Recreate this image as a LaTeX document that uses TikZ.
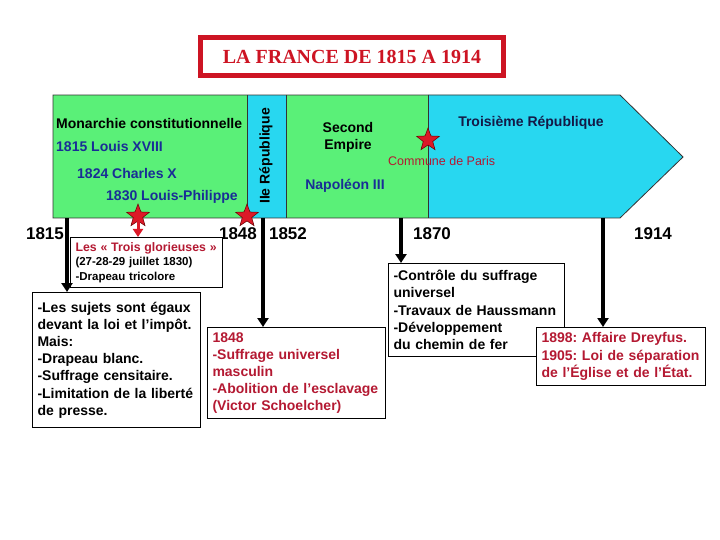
\documentclass[tikz,border=0pt]{standalone}
\usepackage{fontspec}
\setmainfont{Liberation Sans}
\newfontfamily\titlefont{Liberation Serif}
\usetikzlibrary{shapes.geometric,arrows.meta}
\definecolor{bandgreen}{RGB}{90,240,120}
\definecolor{bandblue}{RGB}{40,215,240}
\definecolor{titlered}{RGB}{205,20,35}
\definecolor{txtred}{RGB}{180,25,50}
\definecolor{txtblue}{RGB}{25,45,150}
\definecolor{txtnavy}{RGB}{20,25,70}
\definecolor{starred}{RGB}{220,25,40}
\newcommand{\bxfont}{\fontsize{14}{17.2}\selectfont\bfseries}
\frenchspacing
\begin{document}
\begin{tikzpicture}[x=1pt,y=-1pt,
  infobox/.style={draw, line width=1pt, fill=white, anchor=north west, align=left,
    inner xsep=5pt, inner ysep=0pt, font=\bxfont},
  bandtxt/.style={font=\fontsize{14}{17}\selectfont\bfseries, inner sep=0pt},
  yeartxt/.style={font=\fontsize{17}{20}\selectfont\bfseries, inner sep=0pt},
  redstar/.style={star, star points=5, star point ratio=2.4, minimum size=24pt,
    inner sep=0pt, fill=starred, draw=black!60!red, line width=0.5pt},
  blackarrow/.style={line width=4pt, -{Triangle[width=11pt,length=9pt]}},
  redarrow/.style={line width=3pt, starred, -{Triangle[width=10pt,length=8pt]}}]
\useasboundingbox (0,0) rectangle (720,540);
\fill[white] (0,0) rectangle (720,540);
% title
\node[draw=titlered, line width=5pt, minimum width=303pt, minimum height=38pt,
  text=titlered, font=\titlefont\fontsize{20}{24}\selectfont\bfseries] (title) at (352,56.5)
  {LA FRANCE DE 1815 A 1914};
% band
\fill[bandgreen] (53,95) rectangle (247,218);
\fill[bandblue] (247,95) rectangle (286,218);
\fill[bandgreen] (286,95) rectangle (428,218);
\fill[bandblue] (428,95) -- (620,95) -- (683,157) -- (620,218) -- (428,218) -- cycle;
\draw[line width=0.8pt, black!80] (53,95) -- (620,95) -- (683,157) -- (620,218) -- (53,218) -- cycle;
\draw[line width=0.8pt, black!80] (247,95) -- (247,218) (286,95) -- (286,218) (428,95) -- (428,218);
% band texts
\node[bandtxt, anchor=west] (mon) at (56,123) {Monarchie constitutionnelle};
\node[bandtxt, anchor=west, text=txtblue] (l18) at (56,146) {1815 Louis XVIII};
\node[bandtxt, anchor=west, text=txtblue] (ch10) at (77,173) {1824 Charles X};
\node[bandtxt, anchor=west, text=txtblue] (lp) at (106,197) {1830 Louis-Philippe};
\node[bandtxt, rotate=90] (rep2) at (266,156) {IIe République};
\node[bandtxt, align=center] (se) at (348,137) {Second\\Empire};
\node[bandtxt, text=txtblue] (nap) at (345,186) {Napoléon III};
\node[bandtxt, text=txtnavy] (rep3) at (531,123) {Troisième République};
\node[inner sep=0pt, anchor=west, text=txtred, font=\fontsize{12.5}{15}\selectfont] (com) at (388,161) {Commune de Paris};
% years
\node[yeartxt] (y1815) at (45,234) {1815};
\node[yeartxt] (y1848) at (238,234) {1848};
\node[yeartxt] (y1852) at (288,234) {1852};
\node[yeartxt] (y1870) at (432,234) {1870};
\node[yeartxt] (y1914) at (653,234) {1914};
% boxes
\node[infobox, text width=158pt, minimum height=135pt] (b1) at (32,292)
  {-Les sujets sont égaux\\devant la loi et l’impôt.\\Mais:\\-Drapeau blanc.\\-Suffrage censitaire.\\-Limitation de la liberté\\de presse.};
\node[infobox, text width=142pt, minimum height=50pt, font=\fontsize{11.5}{14.5}\selectfont\bfseries] (tg) at (70,237)
  {\textcolor{txtred}{\fontsize{12.3}{14.5}\selectfont Les « Trois glorieuses »}\\(27-28-29 juillet 1830)\\-Drapeau tricolore};
\node[infobox, text width=168pt, minimum height=91pt, text=txtred] (b2) at (207,327)
  {1848\\-Suffrage universel\\masculin\\-Abolition de l’esclavage\\(Victor Schoelcher)};
\node[infobox, text width=166pt, minimum height=93pt] (b3) at (388,263)
  {-Contrôle du suffrage\\universel\\-Travaux de Haussmann\\-Développement\\du chemin de fer};
\node[infobox, text width=159pt, minimum height=58pt, text=txtred] (b4) at (536,327)
  {1898: Affaire Dreyfus.\\1905: Loi de séparation\\de l’Église et de l’État.};
% timeline arrows
\coordinate (t1815) at (67,218);
\coordinate (t1848) at (263,218);
\coordinate (t1870) at (401,218);
\coordinate (t1914) at (603,218);
\draw[blackarrow] (t1815) -- (b1.north -| t1815);
\draw[blackarrow] (t1848) -- (b2.north -| t1848);
\draw[blackarrow] (t1870) -- (b3.north -| t1870);
\draw[blackarrow] (t1914) -- (b4.north -| t1914);
% stars
\node[redstar] (s1830) at (138,216) {};
\node[redstar] (s1848) at (247,216) {};
\node[redstar] (s1871) at (428,140) {};
\draw[redarrow] (s1830.south) -- (tg.north -| s1830);
\end{tikzpicture}
\end{document}
